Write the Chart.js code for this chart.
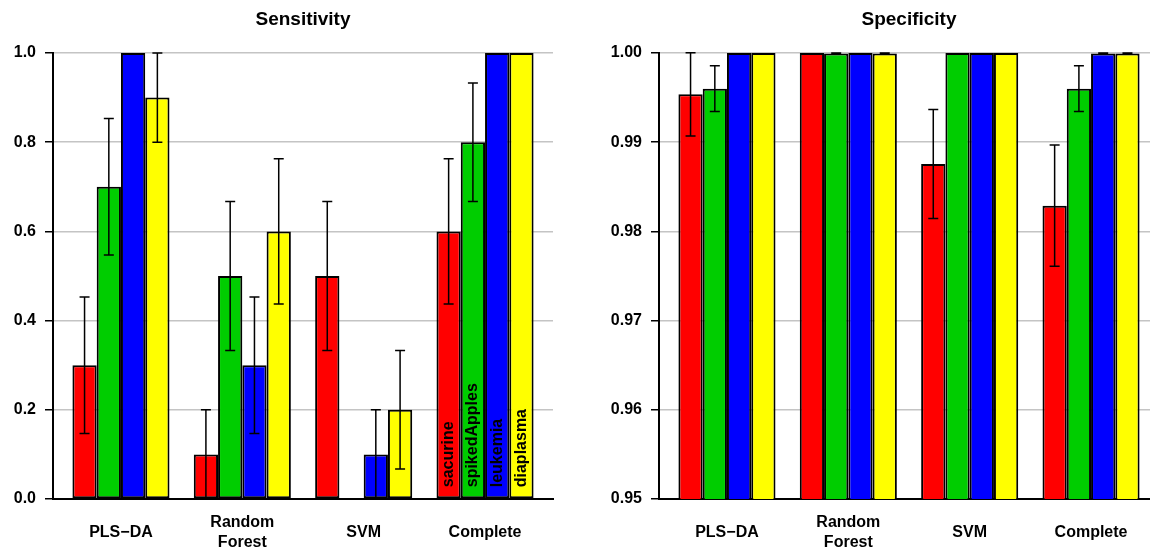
<!DOCTYPE html>
<html>
<head>
<meta charset="utf-8">
<script src="https://cdn.jsdelivr.net/npm/chart.js@4.4.1/dist/chart.umd.min.js"></script>
<style>
  html, body { margin: 0; padding: 0; background: #fff; overflow: hidden; }
  #wrap { position: relative; width: 1150px; height: 550px; overflow: hidden; }
  .panel { position: absolute; top: 0; width: 606px; height: 550px; }
</style>
</head>
<body>
<div id="wrap">
  <div class="panel" style="left:0"><canvas id="sensChart" width="606" height="550"></canvas></div>
  <div class="panel" style="left:606px"><canvas id="specChart" width="606" height="550"></canvas></div>
</div>
<script>
// categories and series
const methods = ['PLS\u2212DA', ['Random', 'Forest'], 'SVM', 'Complete'];
const datasetNames = ['sacurine', 'spikedApples', 'leukemia', 'diaplasma'];
const barColors = ['#ff0000', '#00cd00', '#0000ff', '#ffff00'];

// Sensitivity: mean per method, and half-width of error bar
const sensSacurine = [0.3, 0.1, 0.5, 0.6];
const sensSpikedApples = [0.7, 0.5, 0.0, 0.8];
const sensLeukemia = [1.0, 0.3, 0.1, 1.0];
const sensDiaplasma = [0.9, 0.6, 0.2, 1.0];
const sensErrSacurine = [0.153, 0.1, 0.167, 0.163];
const sensErrSpikedApples = [0.153, 0.167, 0, 0.133];
const sensErrLeukemia = [0, 0.153, 0.1, 0];
const sensErrDiaplasma = [0.1, 0.163, 0.133, 0];

// Specificity
const specSacurine = [0.99537, 1.0, 0.98756, 0.98288];
const specSpikedApples = [0.996, 0.99993, 1.0, 0.996];
const specLeukemia = [1.0, 1.0, 1.0, 0.99995];
const specDiaplasma = [1.0, 0.99993, 1.0, 0.99993];
const specErrSacurine = [0.00467, 0, 0.0061, 0.0068];
const specErrSpikedApples = [0.00256, 0.00007, 0, 0.00256];
const specErrLeukemia = [0, 0, 0, 0.00005];
const specErrDiaplasma = [0, 0.00007, 0, 0.00007];

// y axis ranges
const sensTicks = { min: 0, max: 1, step: 0.2, decimals: 1 };
const specTicks = { min: 0.95, max: 1.0, step: 0.01, decimals: 2 };

Chart.defaults.font.family = '"Liberation Sans", Arial, sans-serif';

// draws the error bars (whiskers with caps) on top of the bars
const errorBarPlugin = {
  id: 'errorBars',
  afterDatasetsDraw(chart, args, opts) {
    const ctx = chart.ctx;
    const yScale = chart.scales.y;
    ctx.save();
    ctx.strokeStyle = '#000';
    ctx.lineWidth = 1.5;
    chart.data.datasets.forEach((ds, i) => {
      const meta = chart.getDatasetMeta(i);
      meta.data.forEach((bar, j) => {
        const e = opts.errors[i][j];
        if (!e) return;
        const v = ds.data[j].y;
        const top = yScale.getPixelForValue(v + e);
        const bottom = yScale.getPixelForValue(v - e);
        ctx.beginPath();
        ctx.moveTo(bar.x, top); ctx.lineTo(bar.x, bottom);
        ctx.moveTo(bar.x - 5, top); ctx.lineTo(bar.x + 5, top);
        ctx.moveTo(bar.x - 5, bottom); ctx.lineTo(bar.x + 5, bottom);
        ctx.stroke();
      });
    });
    ctx.restore();
  }
};

// writes the data set names up inside the bars of one group
const barLabelPlugin = {
  id: 'barLabels',
  afterDatasetsDraw(chart, args, opts) {
    const ctx = chart.ctx;
    ctx.save();
    ctx.font = 'bold 16px "Liberation Sans", Arial, sans-serif';
    ctx.fillStyle = '#000';
    ctx.textAlign = 'left';
    ctx.textBaseline = 'middle';
    chart.data.datasets.forEach((ds, i) => {
      const bar = chart.getDatasetMeta(i).data[opts.index];
      ctx.save();
      ctx.translate(bar.x, bar.base - 11);
      ctx.rotate(-Math.PI / 2);
      ctx.fillText(ds.label, 0, 0);
      ctx.restore();
    });
    ctx.restore();
  }
};

function makeChart(id, title, series, errors, yAxis, plugins) {
  const ctx = document.getElementById(id).getContext('2d');
  return new Chart(ctx, {
    type: 'bar',
    data: {
      datasets: series.map((values, i) => ({
        label: datasetNames[i],
        data: values.map((y, j) => ({ x: j, y: y })),
        backgroundColor: barColors[i],
        borderColor: '#000',
        borderWidth: 2,
        borderSkipped: false,
        categoryPercentage: 0.8,
        barPercentage: 1.0
      }))
    },
    plugins: plugins,
    options: {
      responsive: false,
      animation: false,
      layout: { padding: { left: 0, right: 53, top: 0, bottom: 0 } },
      plugins: {
        legend: { display: false },
        tooltip: { enabled: false },
        title: {
          display: true,
          text: title,
          fullSize: false,
          color: '#000',
          font: { size: 19, weight: 'bold' },
          padding: { top: 8, bottom: 22.2 }
        },
        errorBars: { errors: errors },
        barLabels: { index: 3 }
      },
      scales: {
        x: {
          type: 'linear',
          offset: false,
          min: -0.56,
          max: 3.56,
          afterBuildTicks: s => { s.ticks = methods.map((m, i) => ({ value: i })); },
          afterFit: s => { s.height = 51; },
          grid: { display: false, drawTicks: false, offset: false },
          border: { display: true, color: '#000', width: 2 },
          ticks: {
            callback: v => methods[v],
            color: '#000',
            font: { size: 16, weight: 'bold' },
            padding: 24,
            crossAlign: 'center',
            maxRotation: 0,
            autoSkip: false
          }
        },
        y: {
          min: yAxis.min,
          max: yAxis.max,
          afterFit: s => { s.width = 53; },
          grid: {
            color: c => (c.tick && c.tick.value <= yAxis.min + 1e-9) ? '#000' : '#c4c4c4',
            lineWidth: 1.5,
            tickColor: '#000',
            tickLength: 8,
            tickWidth: 1.5
          },
          border: { display: true, color: '#000', width: 2 },
          ticks: {
            stepSize: yAxis.step,
            callback: v => v.toFixed(yAxis.decimals),
            color: '#000',
            font: { size: 16, weight: 'bold' },
            padding: 9
          }
        }
      }
    }
  });
}

makeChart('sensChart', 'Sensitivity',
  [sensSacurine, sensSpikedApples, sensLeukemia, sensDiaplasma],
  [sensErrSacurine, sensErrSpikedApples, sensErrLeukemia, sensErrDiaplasma],
  sensTicks, [errorBarPlugin, barLabelPlugin]);

makeChart('specChart', 'Specificity',
  [specSacurine, specSpikedApples, specLeukemia, specDiaplasma],
  [specErrSacurine, specErrSpikedApples, specErrLeukemia, specErrDiaplasma],
  specTicks, [errorBarPlugin]);
</script>
</body>
</html>
